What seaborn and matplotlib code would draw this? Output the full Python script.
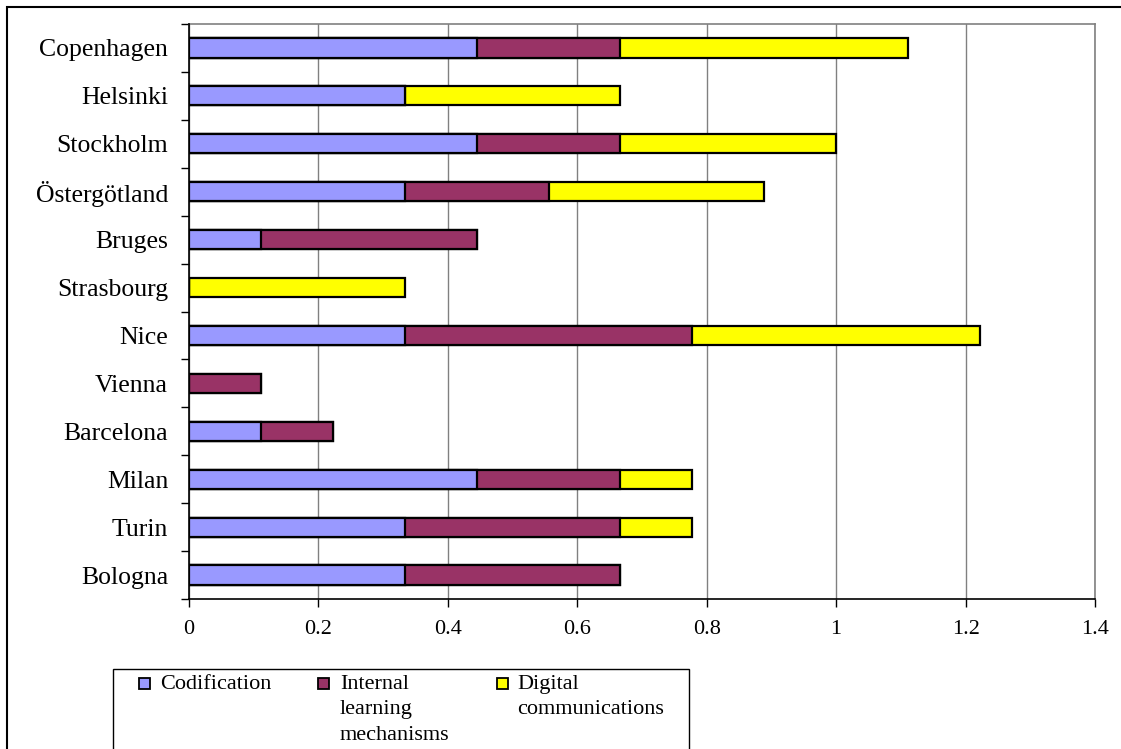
import numpy as np
import pandas as pd
import seaborn as sns
import matplotlib.pyplot as plt
from matplotlib.patches import Rectangle

cities = ["Copenhagen", "Helsinki", "Stockholm", "Östergötland", "Bruges",
          "Strasbourg", "Nice", "Vienna", "Barcelona", "Milan", "Turin", "Bologna"]
codification = [4/9, 3/9, 4/9, 3/9, 1/9, 0, 3/9, 0, 1/9, 4/9, 3/9, 3/9]
internal_learning = [2/9, 0, 2/9, 2/9, 3/9, 0, 4/9, 1/9, 1/9, 2/9, 3/9, 3/9]
digital_comm = [4/9, 3/9, 3/9, 3/9, 0, 3/9, 4/9, 0, 0, 1/9, 1/9, 0]
series_labels = ["Codification", "Internal\nlearning\nmechanisms", "Digital\ncommunications"]
x_ticks = [0, 0.2, 0.4, 0.6, 0.8, 1.0, 1.2, 1.4]
x_tick_labels = ["0", "0.2", "0.4", "0.6", "0.8", "1", "1.2", "1.4"]

colors = ["#9999FF", "#993366", "#FFFF00"]

W, H = 1121, 749

sns.set_style("white")
plt.rcParams["font.family"] = ["Liberation Serif", "DejaVu Serif"]
plt.rcParams["text.color"] = "black"
plt.rcParams["xtick.color"] = "black"
plt.rcParams["ytick.color"] = "black"

df = pd.DataFrame({"city": cities,
                   "c1": codification,
                   "c2": internal_learning,
                   "c3": digital_comm})
df["cum1"] = df["c1"]
df["cum2"] = df["c1"] + df["c2"]
df["cum3"] = df["c1"] + df["c2"] + df["c3"]

fig = plt.figure(figsize=(W / 100, H / 100), dpi=100)
ax = fig.add_axes([189 / W, 1 - 599 / H, (1095 - 189) / W, (599 - 24) / H])

# stacked bars: draw cumulative totals from the outermost layer inward
for col, color in zip(["cum3", "cum2", "cum1"], colors[::-1]):
    sns.barplot(data=df, x=col, y="city", orient="h", color=color,
                width=0.4, edgecolor="black", linewidth=1.6,
                saturation=1, ax=ax, zorder=3)

ax.set_xlim(0, 1.4)
ax.set_ylim(len(cities) - 0.5, -0.5)
ax.set_xlabel("")
ax.set_ylabel("")
ax.set_xticks(x_ticks)
ax.set_xticklabels(x_tick_labels, fontsize=16)
ax.tick_params(axis="x", direction="out", length=6, width=1, color="black",
               pad=9, bottom=True, labelcolor="black")
ax.set_yticks(range(len(cities)))
ax.set_yticklabels(cities, fontsize=18.5)
ax.tick_params(axis="y", which="major", length=0, pad=15, labelcolor="black")
ax.set_yticks(np.arange(-0.5, len(cities) + 0.5, 1), minor=True)
ax.tick_params(axis="y", which="minor", direction="out", length=6, width=1,
               color="black", left=True)

ax.grid(axis="x", color="#808080", linewidth=1, zorder=0)
ax.set_axisbelow(True)
for side in ["top", "right"]:
    ax.spines[side].set_color("#808080")
    ax.spines[side].set_linewidth(1.2)
for side in ["left", "bottom"]:
    ax.spines[side].set_color("black")
    ax.spines[side].set_linewidth(1.2)
    ax.spines[side].set_zorder(5)


def fx(px):
    return px / W


def fy(py):
    return 1 - py / H


# legend box below the plot
fig.patches.append(Rectangle((fx(113), fy(760)), fx(689) - fx(113), fy(669) - fy(760),
                             transform=fig.transFigure, fill=True,
                             facecolor="white", edgecolor="black", linewidth=1))
marker_x = [139, 318, 497]
text_x = [160, 340, 517]
row_y = 683
for mx, tx, color, label in zip(marker_x, text_x, colors, series_labels):
    fig.patches.append(Rectangle((fx(mx), fy(row_y + 5.5)), fx(11), 11 / H,
                                 transform=fig.transFigure, facecolor=color,
                                 edgecolor="black", linewidth=1.3))
    fig.text(fx(tx), fy(row_y - 8), label, fontsize=16, va="top", ha="left",
             linespacing=1.45, color="black")

# outer chart border
fig.patches.append(Rectangle((fx(7), -0.1), 1.2, 1.1 - 7 / H,
                             transform=fig.transFigure, fill=False,
                             edgecolor="black", linewidth=1.5))

fig.savefig("out.png", dpi=100)
